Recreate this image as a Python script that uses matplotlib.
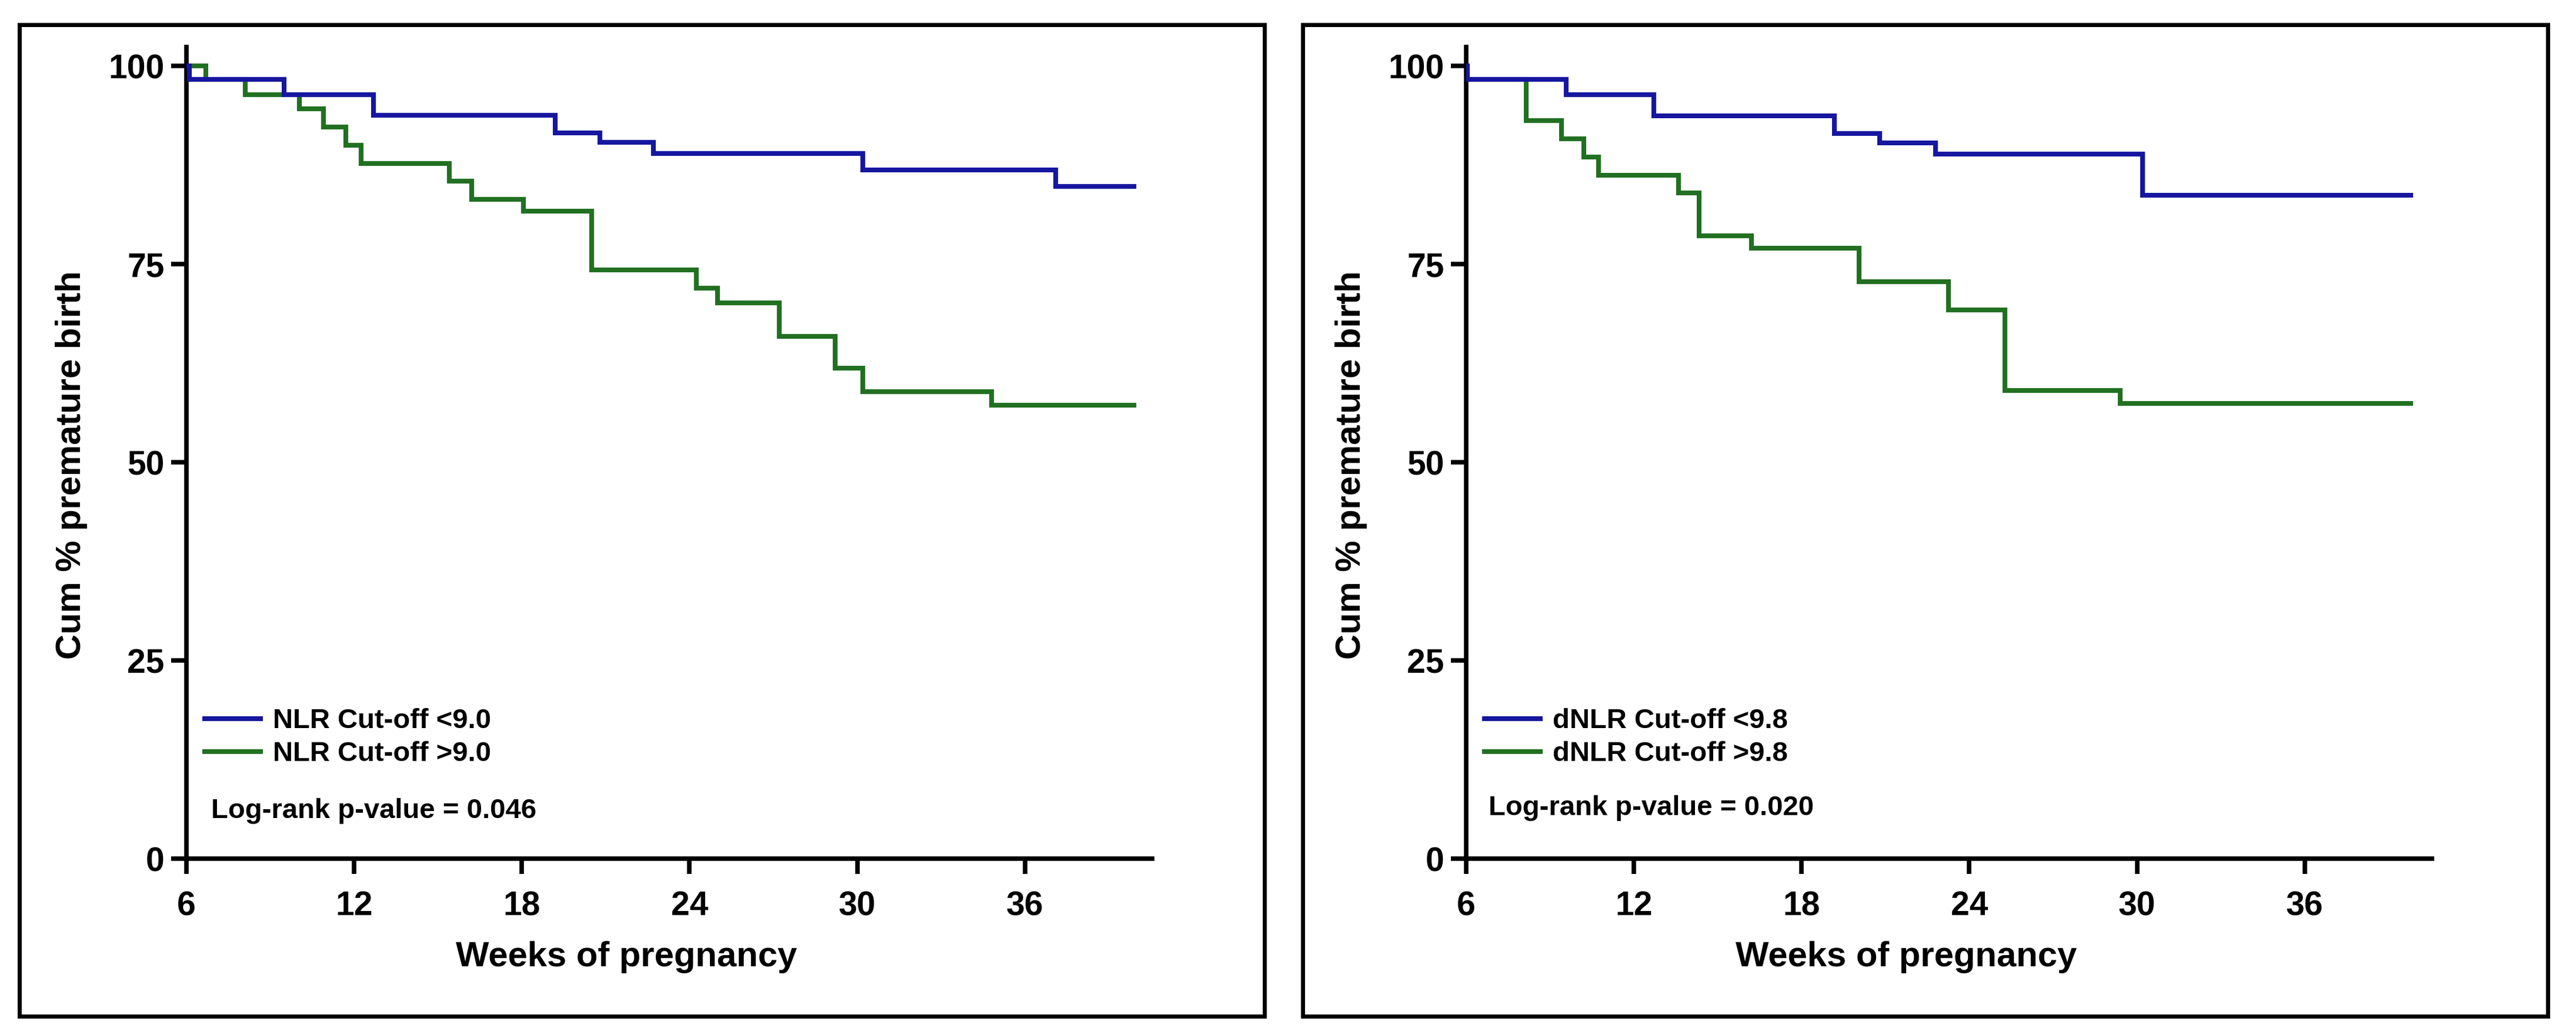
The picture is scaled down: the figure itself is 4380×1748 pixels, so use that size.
import matplotlib
matplotlib.use("Agg")
import matplotlib.pyplot as plt
from matplotlib import font_manager
from matplotlib.patches import Rectangle
from matplotlib.lines import Line2D

# ---------------- data ----------------
x_ticks = [6, 12, 18, 24, 30, 36]
y_ticks = [0, 25, 50, 75, 100]

# Left panel: NLR
nlr_low_t = [6.0, 6.1, 9.5, 12.7, 19.2, 20.8, 22.7, 30.2, 37.1, 39.9]
nlr_low_s = [100, 98.3, 96.4, 93.8, 91.6, 90.4, 89.0, 86.9, 84.8, 84.8]
nlr_high_t = [6.0, 6.7, 8.1, 10.05, 10.9, 11.7, 12.25, 15.4, 16.2, 18.05, 20.5,
              24.25, 25.0, 27.2, 29.2, 30.2, 34.8, 39.9]
nlr_high_s = [100, 98.3, 96.4, 94.6, 92.3, 90.0, 87.7, 85.5, 83.2, 81.7, 74.3,
              72.0, 70.1, 65.9, 61.9, 58.9, 57.2, 57.2]

# Right panel: dNLR
dnlr_low_t = [6.0, 6.05, 9.58, 12.72, 19.18, 20.8, 22.8, 30.2, 39.8]
dnlr_low_s = [100, 98.3, 96.4, 93.7, 91.5, 90.3, 88.9, 83.7, 83.7]
dnlr_high_t = [6.0, 6.05, 8.15, 9.4, 10.2, 10.73, 13.6, 14.34, 16.2, 20.06,
               23.25, 25.27, 29.4, 39.8]
dnlr_high_s = [100, 98.3, 93.1, 90.8, 88.5, 86.2, 84.0, 78.6, 77.0, 72.8,
               69.2, 59.1, 57.4, 57.4]

labels_left = ["NLR Cut-off <9.0", "NLR Cut-off >9.0"]
labels_right = ["dNLR Cut-off <9.8", "dNLR Cut-off >9.8"]
pvals = ["Log-rank p-value = 0.046", "Log-rank p-value = 0.020"]
xlabel = "Weeks of pregnancy"
ylabel = "Cum % premature birth"

BLUE = "#1616a0"
GREEN = "#217021"

# ---------------- fonts ----------------
names = {f.name for f in font_manager.fontManager.ttflist}
narrow = "Liberation Sans Narrow" if "Liberation Sans Narrow" in names else "Liberation Sans"
plt.rcParams["font.family"] = ["Liberation Sans", "DejaVu Sans"]

W, H = 4380, 1748
fig = plt.figure(figsize=(W / 100, H / 100), dpi=100)

def px_rect(x0, y0, x1, y1):
    return [x0 / W, 1 - y1 / H, (x1 - x0) / W, (y1 - y0) / H]

# panel frames
for fx0, fx1 in [(33, 2150), (2215, 4332)]:
    fig.patches.append(Rectangle((fx0 / W, 1 - 1728 / H), (fx1 - fx0) / W, (1728 - 42) / H,
                                 transform=fig.transFigure, fill=False,
                                 edgecolor="black", linewidth=5, zorder=0))

panels = [
    (317, nlr_low_t, nlr_low_s, nlr_high_t, nlr_high_s, labels_left, pvals[0], (6.88, 6.0)),
    (2493, dnlr_low_t, dnlr_low_s, dnlr_high_t, dnlr_high_s, labels_right, pvals[1], (6.8, 6.4)),
]

for (ax_x0, lt, ls, ht, hs, labs, ptxt, ppos) in panels:
    ax = fig.add_axes(px_rect(ax_x0, 80, ax_x0 + 1642, 1460))
    ax.step(ht, hs, where="post", color=GREEN, lw=5.8, solid_joinstyle="miter", zorder=3)
    ax.step(lt, ls, where="post", color=BLUE, lw=5.8, solid_joinstyle="miter", zorder=4)
    ax.set_xlim(6, 40.55)
    ax.set_ylim(0, 102.4)
    ax.set_xticks(x_ticks)
    ax.set_yticks(y_ticks)
    for s in ["top", "right"]:
        ax.spines[s].set_visible(False)
    for s in ["left", "bottom"]:
        ax.spines[s].set_linewidth(5.5)
    ax.tick_params(axis="both", length=19, width=5.5, direction="out", labelsize=41)
    ax.tick_params(axis="x", pad=20)
    ax.tick_params(axis="y", pad=8)
    for lab in ax.get_xticklabels() + ax.get_yticklabels():
        lab.set_fontweight("bold")
    ax.set_xlabel(xlabel, fontsize=43, fontweight="bold")
    ax.xaxis.set_label_coords(0.4555, -0.1217)
    ax.xaxis.label.set_va("center")
    ax.set_ylabel(ylabel, fontsize=43, fontweight="bold")
    ax.yaxis.set_label_coords(-0.1188, 0.485)
    ax.yaxis.label.set_va("center")

    handles = [Line2D([], [], color=BLUE, lw=5.8), Line2D([], [], color=GREEN, lw=5.8)]
    leg = ax.legend(handles, labs, loc="center left", bbox_to_anchor=(0.019, 0.149),
                    frameon=False, borderpad=0, borderaxespad=0, handlelength=2.0,
                    handletextpad=0.45, labelspacing=0.25,
                    prop={"family": [narrow, "DejaVu Sans"], "weight": "bold", "size": 34})
    ax.text(ppos[0], ppos[1], ptxt, ha="left", va="center", fontsize=34,
            fontweight="bold", family=[narrow, "DejaVu Sans"])

fig.savefig("out.png", dpi=100)
